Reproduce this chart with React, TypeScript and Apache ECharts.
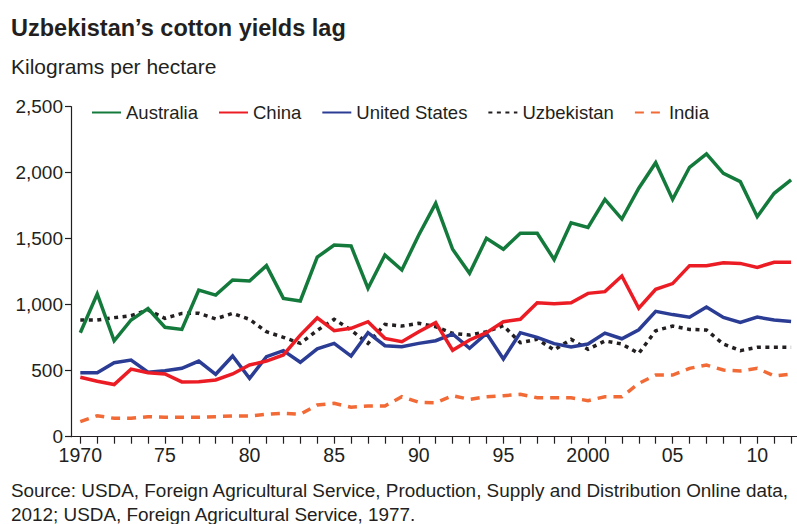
import React, { useEffect, useRef } from "react";
import * as echarts from "echarts";

// Crop years on the horizontal axis
const years: number[] = [];
for (let y = 1970; y <= 2012; y++) years.push(y);

// Lint yields, kilograms per hectare, 1970–2012
const australia = [
  788, 1081, 727, 884, 970, 829, 813, 1111, 1073, 1187,
  1180, 1296, 1048, 1028, 1360, 1452, 1445, 1124, 1376, 1263,
  1528, 1768, 1420, 1238, 1503, 1420, 1541, 1541, 1342, 1621,
  1586, 1798, 1649, 1882, 2076, 1798, 2041, 2142, 1995, 1932,
  1667, 1844, 1945,
];
const china = [
  450, 420, 395, 512, 485, 475, 415, 417, 430, 475,
  543, 573, 619, 770, 900, 803, 821, 871, 745, 720,
  795, 864, 655, 733, 788, 871, 889, 1015, 1008, 1015,
  1086, 1099, 1217, 973, 1117, 1160, 1296, 1296, 1318, 1313,
  1283, 1321, 1321,
];
const unitedStates = [
  485, 485, 561, 581, 488, 500, 518, 573, 473, 611,
  442, 606, 652, 564, 666, 707, 611, 788, 689, 682,
  707, 727, 778, 670, 783, 589, 788, 753, 705, 680,
  702, 785, 742, 810, 950, 925, 905, 982, 904, 866,
  906, 884, 873,
];
const uzbekistan = [
  884, 884, 902, 917, 960, 897, 934, 935, 893, 934,
  889, 795, 753, 707, 805, 890, 808, 707, 851, 838,
  859, 833, 783, 770, 795, 841, 712, 738, 657, 738,
  662, 725, 702, 631, 803, 838, 813, 808, 702, 652,
  677, 677, 677,
];
const india = [
  114, 159, 139, 139, 152, 147, 147, 147, 152, 157,
  157, 170, 177, 170, 240, 253, 223, 233, 233, 303,
  261, 257, 311, 283, 303, 311, 321, 295, 295, 295,
  273, 303, 303, 404, 467, 467, 518, 543, 505, 498,
  518, 460, 475,
];

// Labelled years and the text shown under them
const labelYears = [1970, 1975, 1980, 1985, 1990, 1995, 2000, 2005, 2010];
const xTickLabels = ["1970", "75", "80", "85", "90", "95", "2000", "05", "10"];
const yTicks = [0, 500, 1000, 1500, 2000, 2500];
const yTickLabels = ["0", "500", "1,000", "1,500", "2,000", "2,500"];

const FONT = '"Liberation Sans", Arial, Helvetica, sans-serif';
const INK = "#231f20";

const pairs = (vals: number[]) => years.map((y, i) => [y, vals[i]]);

export default function App() {
  const ref = useRef<HTMLDivElement>(null);

  useEffect(() => {
    if (!ref.current) return;
    const chart = echarts.init(ref.current, null, { renderer: "svg" });

    const lineSeries = (
      name: string,
      vals: number[],
      color: string,
      type: any,
      z: number
    ) => ({
      name,
      type: "line",
      data: pairs(vals),
      symbol: "none",
      z,
      lineStyle: { color, width: 3.5, type, cap: "butt", join: "miter" },
      itemStyle: { color },
    });

    chart.setOption({
      animation: false,
      backgroundColor: "#ffffff",
      textStyle: { fontFamily: FONT },
      graphic: [
        {
          type: "text",
          left: 11,
          top: 16,
          style: {
            text: "Uzbekistan’s cotton yields lag",
            font: `bold 23.5px ${FONT}`,
            fill: INK,
          },
        },
        {
          type: "text",
          left: 11,
          top: 56,
          style: {
            text: "Kilograms per hectare",
            font: `21px ${FONT}`,
            fill: INK,
          },
        },
        {
          type: "text",
          left: 11,
          top: 478,
          style: {
            text:
              "Source: USDA, Foreign Agricultural Service, Production, Supply and Distribution Online data,\n2012; USDA, Foreign Agricultural Service, 1977.",
            font: `18.9px ${FONT}`,
            lineHeight: 24,
            fill: INK,
          },
        },
      ],
      legend: {
        left: 91,
        top: 103,
        padding: 0,
        itemWidth: 29,
        itemHeight: 14,
        itemGap: 20,
        itemStyle: { opacity: 0 },
        textStyle: { fontSize: 18.5, color: INK, fontFamily: FONT },
        data: ["Australia", "China", "United States", "Uzbekistan", "India"],
      },
      grid: {
        left: 71,
        right: 0,
        top: 106.7,
        bottom: 87.3,
        containLabel: false,
        outerBoundsMode: "none",
      },
      xAxis: {
        type: "value",
        min: 1969.45,
        max: 2012.35,
        axisLine: { show: true, lineStyle: { color: INK, width: 1.2 } },
        axisTick: {
          show: true,
          length: 7,
          customValues: years,
          lineStyle: { color: INK, width: 1.2 },
        },
        axisLabel: {
          customValues: labelYears,
          formatter: (v: number) => xTickLabels[labelYears.indexOf(Math.round(v))] ?? "",
          fontSize: 19.5,
          lineHeight: 14,
          color: INK,
          margin: 11,
          fontFamily: FONT,
        },
        splitLine: { show: false },
      },
      yAxis: {
        type: "value",
        min: 0,
        max: 2500,
        interval: 500,
        axisLine: { show: true, lineStyle: { color: INK, width: 1.2 } },
        axisTick: { show: true, length: 6, lineStyle: { color: INK, width: 1.2 } },
        axisLabel: {
          formatter: (v: number) => yTickLabels[yTicks.indexOf(v)] ?? "",
          fontSize: 19,
          lineHeight: 14,
          color: INK,
          margin: 8,
          fontFamily: FONT,
        },
        splitLine: { show: false },
      },
      series: [
        lineSeries("India", india, "#f26b36", [9, 7], 1),
        lineSeries("Uzbekistan", uzbekistan, INK, [4, 4.5], 2),
        lineSeries("United States", unitedStates, "#2b3c94", "solid", 3),
        lineSeries("China", china, "#ec1c24", "solid", 4),
        lineSeries("Australia", australia, "#147a3c", "solid", 5),
      ],
    });

    return () => chart.dispose();
  }, []);

  return (
    <div
      ref={ref}
      style={{ position: "fixed", left: 0, top: 0, width: 797, height: 524, background: "#fff" }}
    />
  );
}
